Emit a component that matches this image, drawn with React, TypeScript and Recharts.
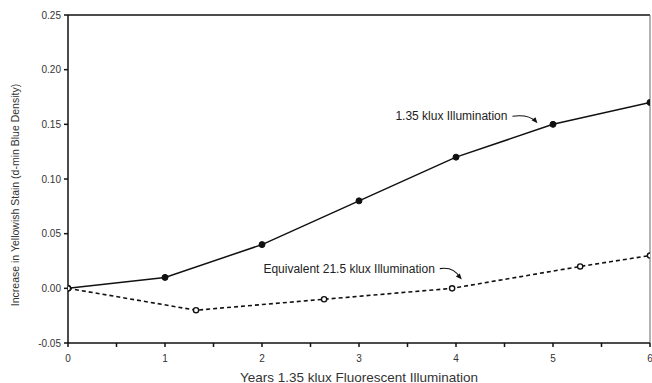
import React from 'react';
import { LineChart, Line, XAxis, YAxis, ReferenceLine, ReferenceDot, Label } from 'recharts';

const solidYears = [0, 1, 2, 3, 4, 5, 6];
const solidStain = [0.0, 0.01, 0.04, 0.08, 0.12, 0.15, 0.17];
const dashedYears = [0, 1.32, 2.64, 3.96, 5.28, 6.0];
const dashedStain = [0.0, -0.02, -0.01, 0.0, 0.02, 0.03];
const xTicks = [0, 0.5, 1, 1.5, 2, 2.5, 3, 3.5, 4, 4.5, 5, 5.5, 6];
const yTicks = [-0.05, 0, 0.05, 0.1, 0.15, 0.2, 0.25];
const solidLabel = '1.35 klux Illumination';
const dashedLabel = 'Equivalent 21.5 klux Illumination';
const xTitle = 'Years 1.35 klux Fluorescent Illumination';
const yTitle = 'Increase in Yellowish Stain (d-min Blue Density)';

const solidData = solidYears.map((x, i) => ({ x, y: solidStain[i] }));
const dashedData = dashedYears.map((x, i) => ({ x, y: dashedStain[i] }));

const FONT = 'Liberation Sans, Arial, sans-serif';
const INK = '#111';

const makeAnnotation = (text: string, dx: number, dy: number) => (props: any) => {
  const { cx, cy } = props;
  const sx = cx - dx;
  const sy = cy - dy;
  return (
    <g>
      <path d={`M${sx},${sy} Q${cx - dx * 0.35},${sy - 2} ${cx - 2},${cy - 2}`} fill="none" stroke={INK} strokeWidth={1.1} />
      <polygon points={`${cx},${cy} ${cx - 6},${cy - 3} ${cx - 2},${cy - 6}`} fill={INK} />
      <text x={sx - 5} y={sy} textAnchor="end" dominantBaseline="central" fontFamily={FONT} fontSize={12} fill="#222">
        {text}
      </text>
    </g>
  );
};

const SolidDot = (props: any) => {
  const { cx, cy } = props;
  return <circle cx={cx} cy={cy} r={3} fill={INK} stroke={INK} strokeWidth={1} />;
};
const OpenDot = (props: any) => {
  const { cx, cy } = props;
  return <circle cx={cx} cy={cy} r={2.6} fill="#fff" stroke={INK} strokeWidth={1.4} />;
};

export default function App() {
  return (
    <div style={{ position: 'absolute', left: 0, top: 0, background: '#fff' }}>
      <LineChart width={652} height={383} margin={{ top: 15, right: 2, left: 0, bottom: 0 }}>
        <XAxis
          type="number"
          dataKey="x"
          domain={[0, 6]}
          ticks={xTicks}
          interval={0}
          allowDataOverflow
          tickFormatter={(v: number) => (Number.isInteger(v) ? String(v) : '')}
          tickSize={4}
          tickMargin={8}
          height={40}
          stroke={INK}
          strokeWidth={1.5}
          tick={{ fontFamily: FONT, fontSize: 10, fill: '#333' }}
        >
          <Label
            content={(p: any) => {
              const vb = p.viewBox;
              return (
                <text x={vb.x + vb.width / 2} y={377} textAnchor="middle" dominantBaseline="central" fontFamily={FONT} fontSize={13.5} fill="#333">
                  {xTitle}
                </text>
              );
            }}
          />
        </XAxis>
        <YAxis
          type="number"
          domain={[-0.05, 0.25]}
          ticks={yTicks}
          interval={0}
          allowDataOverflow
          tickFormatter={(v: number) => v.toFixed(2)}
          width={68}
          tickSize={4}
          tickMargin={3}
          stroke={INK}
          strokeWidth={1.5}
          tick={{ fontFamily: FONT, fontSize: 10, fill: '#333' }}
        >
          <Label
            content={() => {
              const cy = 195;
              return (
                <text x={15} y={cy} transform={`rotate(-90 15 ${cy})`} textAnchor="middle" dominantBaseline="central" fontFamily={FONT} fontSize={10.5} fill="#333">
                  {yTitle}
                </text>
              );
            }}
          />
        </YAxis>
        <ReferenceLine y={0.25} stroke={INK} strokeWidth={1.5} />
        <ReferenceLine x={6} stroke="#666" strokeWidth={1} />
        <Line
          data={solidData}
          dataKey="y"
          type="linear"
          stroke={INK}
          strokeWidth={1.5}
          dot={<SolidDot />}
          isAnimationActive={false}
        />
        <Line
          data={dashedData}
          dataKey="y"
          type="linear"
          stroke={INK}
          strokeWidth={1.6}
          strokeDasharray="4 3"
          dot={<OpenDot />}
          isAnimationActive={false}
        />
        <ReferenceDot x={4.84} y={0.151} r={0} shape={makeAnnotation(solidLabel, 25, 7)} />
        <ReferenceDot x={4.06} y={0.008} r={0} shape={makeAnnotation(dashedLabel, 22, 11)} />
      </LineChart>
    </div>
  );
}
